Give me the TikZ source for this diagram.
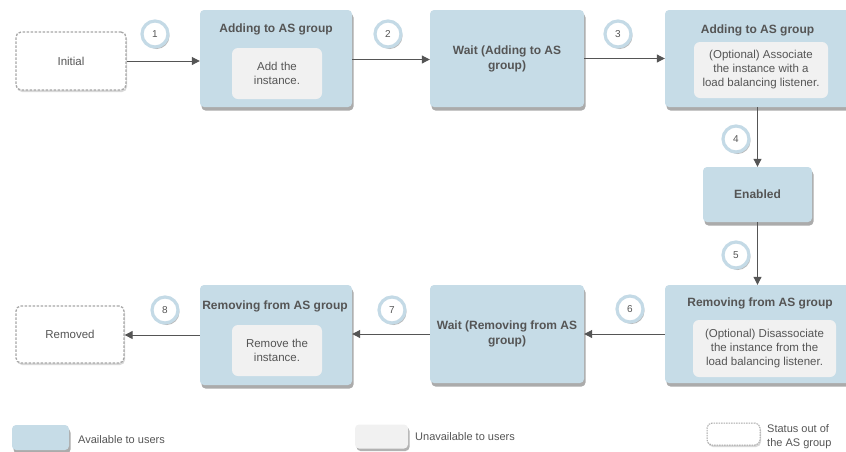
\documentclass[tikz,border=0pt]{standalone}
\usepackage{fontspec}
\setmainfont{Liberation Sans}
\usetikzlibrary{shadows,arrows.meta}
\definecolor{boxblue}{HTML}{C6DCE7}
\definecolor{boxlight}{HTML}{F1F1F1}
\definecolor{txt}{HTML}{555555}
\definecolor{dashgray}{HTML}{A6A6A6}
\definecolor{ringblue}{HTML}{C4DAE6}
\tikzset{
  x=1pt, y=-1pt,
  every node/.style={text=txt, font=\fontsize{11.5}{14}\selectfont},
  bluebox/.style={fill=boxblue, rounded corners=4pt, inner sep=0pt,
    drop shadow={shadow xshift=1.5pt, shadow yshift=-3.5pt, opacity=.55, fill=black!60}},
  lightbox/.style={fill=boxlight, rounded corners=6pt, inner sep=0pt, align=center},
  statebox/.style={draw=dashgray, dashed, line width=1.3pt, fill=white, rounded corners=5pt,
    inner sep=0pt, dash pattern=on 2.5pt off 1.5pt,
    drop shadow={shadow xshift=1pt, shadow yshift=-2pt, opacity=.15, fill=black}},
  title/.style={font=\bfseries\fontsize{12}{15}\selectfont, inner sep=0pt, align=center},
  numc/.style={circle, draw=ringblue, line width=3.2pt, fill=white, minimum size=26pt, inner sep=0pt,
    font=\fontsize{10}{12}\selectfont,
    drop shadow={shadow xshift=1.5pt, shadow yshift=-2pt, opacity=.45, fill=black!60}},
  arr/.style={draw=txt, line width=1pt, -{Triangle[length=8pt,width=8pt]}},
  legtxt/.style={anchor=west, inner sep=0pt, font=\fontsize{11}{13}\selectfont, align=left}
}
\begin{document}
\begin{tikzpicture}
\useasboundingbox (0,0) rectangle (846,451);
% top row
\node[statebox, minimum width=110, minimum height=58] (init) at (71,61) {Initial};
\node[bluebox, minimum width=152, minimum height=97] (b1) at (276,58.5) {};
\node[title] (t1) at (276,29) {Adding to AS group};
\node[lightbox, minimum width=90, minimum height=51] (i1) at (277,73.5) {Add the\\instance.};
\node[bluebox, minimum width=154, minimum height=97, title] (b2) at (507,58.5) {Wait (Adding to AS\\group)};
\node[bluebox, minimum width=185, minimum height=97] (b3) at (757.5,58.5) {};
\node[title] (t3) at (757.5,30) {Adding to AS group};
\node[lightbox, minimum width=134, minimum height=56] (i3) at (761,70) {(Optional) Associate\\the instance with a\\load balancing listener.};
% middle
\node[bluebox, minimum width=109, minimum height=55, title] (en) at (757.5,194.5) {Enabled};
% bottom row
\node[bluebox, minimum width=185, minimum height=98] (b6) at (757.5,334) {};
\node[title] (t6) at (760,303) {Removing from AS group};
\node[lightbox, minimum width=143, minimum height=57] (i6) at (764.5,348.5) {(Optional) Disassociate\\the instance from the\\load balancing listener.};
\node[bluebox, minimum width=154, minimum height=98, title] (b7) at (507,334) {Wait (Removing from AS\\group)};
\node[bluebox, minimum width=152, minimum height=100] (b8) at (276,335) {};
\node[title] (t8) at (275,306) {Removing from AS group};
\node[lightbox, minimum width=90, minimum height=51] (i8) at (277,350.5) {Remove the\\instance.};
\node[statebox, minimum width=108, minimum height=57] (rem) at (70,334.5) {Removed};
% connectors
\draw[arr] (init.east) -- (b1.west |- init.east);
\draw[arr] ([yshift=-1pt]b1.east) -- ([yshift=-1pt]b2.west);
\draw[arr] (b2.east) -- (b3.west);
\draw[arr] (b3.south) -- (en.north);
\draw[arr] (en.south) -- (b6.north);
\draw[arr] (b6.west) -- (b7.east);
\draw[arr] (b7.west) -- (b8.east |- b7.west);
\draw[arr] (b8.west) -- (rem.east |- b8.west);
% numbers
\node[numc] (n1) at (155,34) {1};
\node[numc] (n2) at (388,34) {2};
\node[numc] (n3) at (618,34) {3};
\node[numc] (n4) at (736,139) {4};
\node[numc] (n5) at (736,255) {5};
\node[numc] (n6) at (630,309) {6};
\node[numc] (n7) at (392,310) {7};
\node[numc] (n8) at (165,310) {8};
% legend
\node[bluebox, minimum width=57, minimum height=25] (lg1) at (40.5,437.5) {};
\node[legtxt] (lt1) at (78,440) {Available to users};
\node[fill=boxlight, rounded corners=4pt, inner sep=0pt, minimum width=53, minimum height=24,
  drop shadow={shadow xshift=1.5pt, shadow yshift=-2.5pt, opacity=.5, fill=black!60}] (lg2) at (381.5,436.5) {};
\node[legtxt] (lt2) at (415,437) {Unavailable to users};
\node[statebox, line width=1pt, minimum width=53, minimum height=22, dash pattern=on 1.5pt off 1pt] (lg3) at (733.5,434) {};
\node[legtxt, font=\fontsize{11}{14}\selectfont] (lt3) at (767,437) {Status out of\\the AS group};
\end{tikzpicture}
\end{document}
